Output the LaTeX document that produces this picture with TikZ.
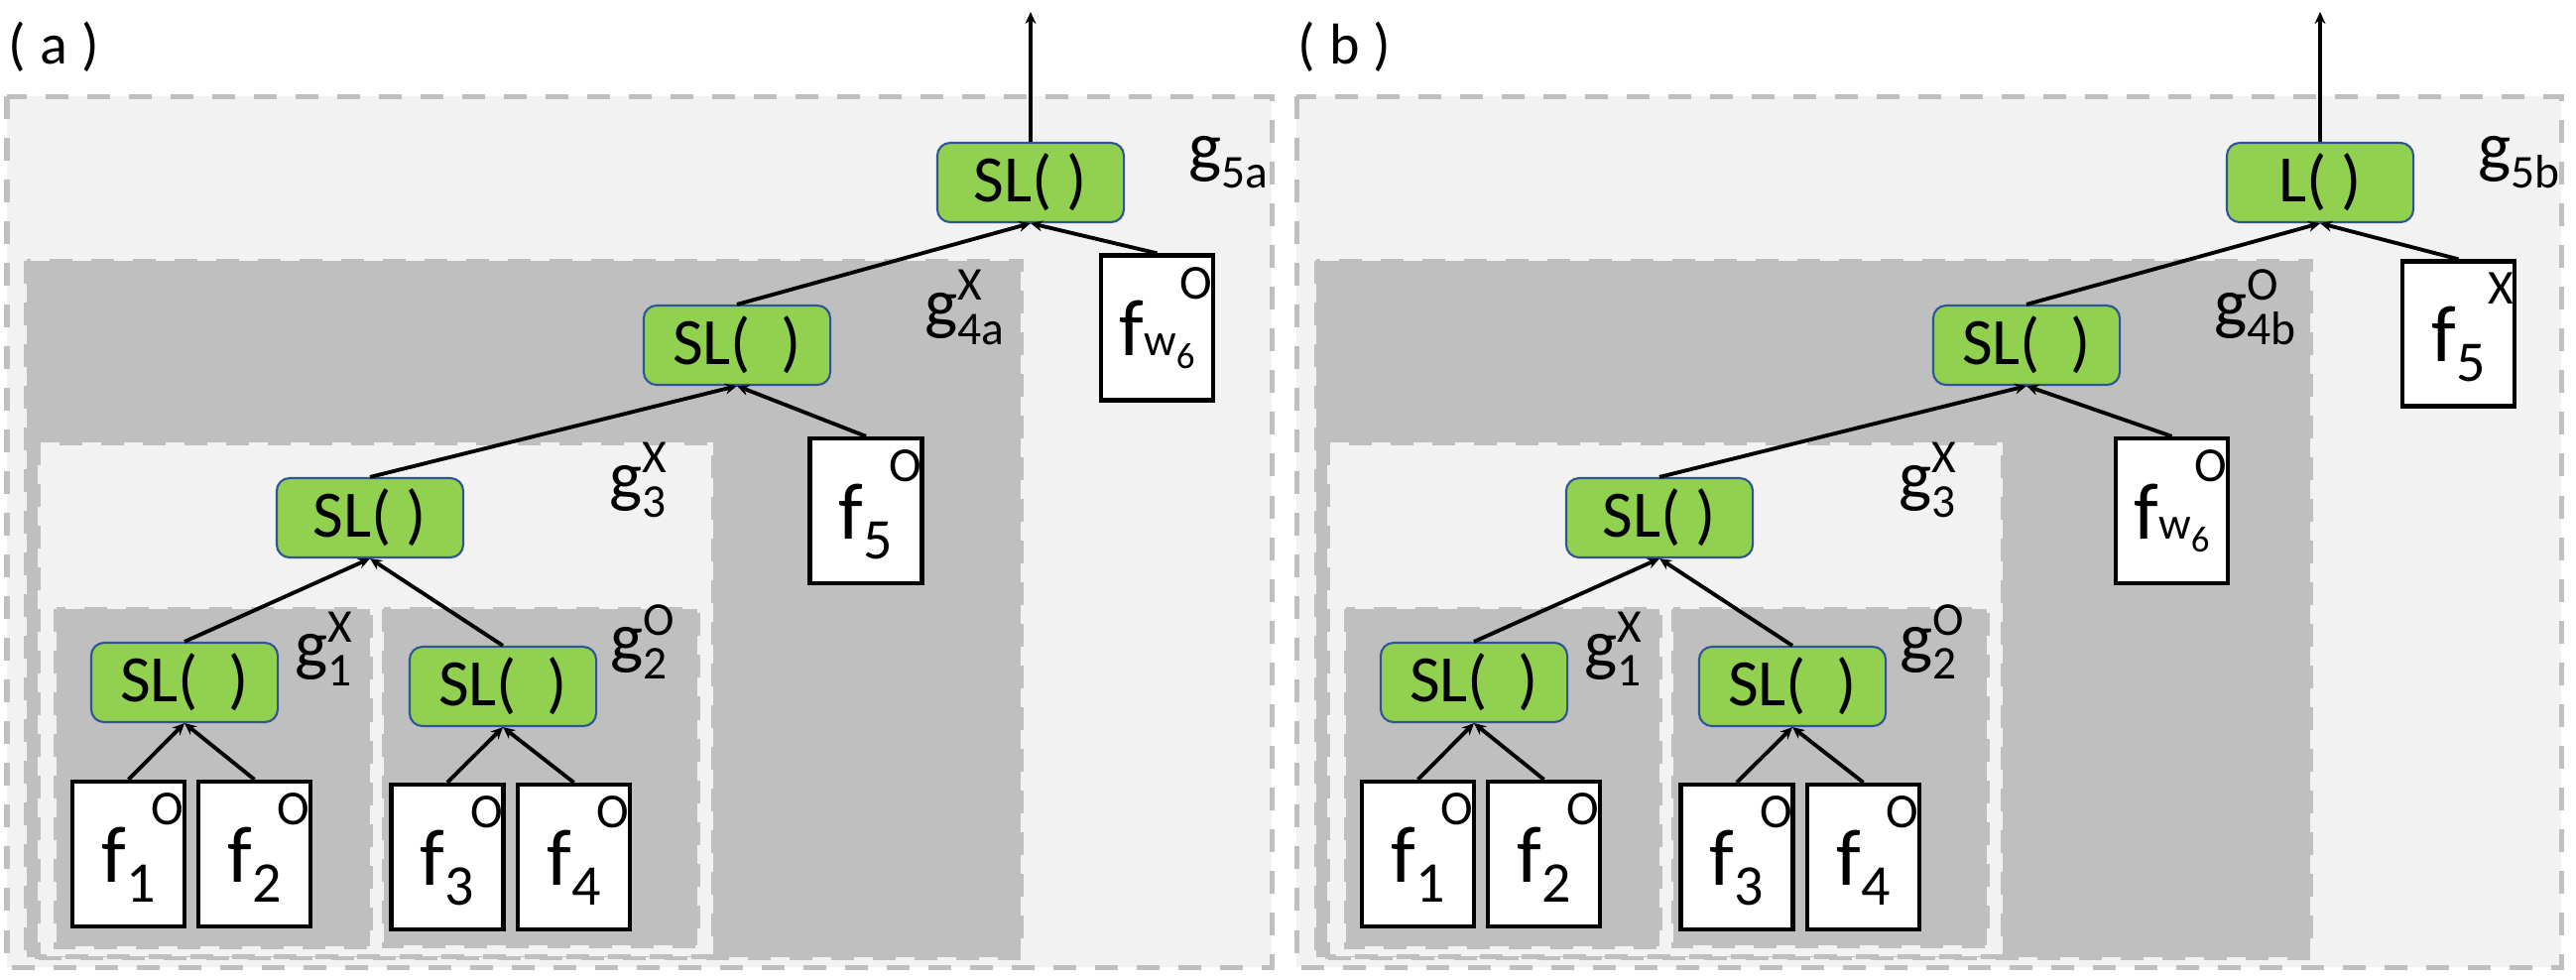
\documentclass[tikz,border=0pt]{standalone}
\usepackage{fontspec}
\setmainfont{Carlito}
\usepackage{xcolor}
\usepackage{tikz}
\usetikzlibrary{arrows.meta}

\definecolor{slgreen}{HTML}{92D050}
\definecolor{slborder}{HTML}{2F5597}
\definecolor{lightgrp}{HTML}{F2F2F2}
\definecolor{darkgrp}{HTML}{BFBFBF}

\newcommand{\slfont}{\fontsize{19}{22}\selectfont}
\newcommand{\ffont}{\fontsize{23}{27}\selectfont}
\newcommand{\fsubfont}{\fontsize{16.5}{19}\selectfont}
\newcommand{\supfont}{\fontsize{14}{16}\selectfont}
\newcommand{\wfont}{\fontsize{13}{15}\selectfont}
\newcommand{\sixfont}{\fontsize{10.5}{12}\selectfont}
\newcommand{\gfont}{\fontsize{20}{23}\selectfont}
\newcommand{\gsubfont}{\fontsize{13.5}{16}\selectfont}
\newcommand{\tagfont}{\fontsize{16.5}{19}\selectfont}

\newcommand{\fsub}[1]{{\ffont f}\raisebox{-0.2cm}{\fsubfont #1}}
\newcommand{\fwsix}{{\ffont f}{\wfont w}\raisebox{-0.13cm}{\sixfont 6}}
\newcommand{\glab}[2]{{\gfont g}\rlap{\raisebox{0.26cm}{\gsubfont #2}}\raisebox{-0.18cm}{\gsubfont #1}}

\tikzset{
  boxlight/.style={draw=darkgrp, fill=lightgrp, line width=0.05cm, dash pattern=on 0.23cm off 0.19cm},
  boxdark/.style={draw=darkgrp, fill=darkgrp, line width=0.05cm, dash pattern=on 0.23cm off 0.19cm},
  slnode/.style={rectangle, rounded corners=0.13cm, draw=slborder, line width=0.6pt, fill=slgreen,
    minimum width=1.88cm, minimum height=0.8cm, inner sep=0pt, font=\slfont},
  fcell/.style={rectangle, draw=black, line width=1.2pt, fill=white, minimum width=1.13cm,
    inner sep=0pt, text height=1.01cm, text depth=0.45cm},
  sup/.style={anchor=north east, inner sep=0pt, font=\supfont, xshift=-0.02cm, yshift=-0.13cm},
  glabel/.style={anchor=base west, inner sep=0pt},
  paneltag/.style={anchor=base west, inner sep=0pt, font=\tagfont},
  link/.style={line width=1.1pt, -{Stealth[length=0.12cm, width=0.11cm]}}
}

\newcommand{\panel}[9]{% shift, tag, root text, g4 sup, top box, top sup, top box centre, mid box, mid box x
  \begin{scope}[shift={(#1,0)}, name prefix=#2-]
    % nested groups
    \draw[boxlight] (7,97) rectangle (1282,975);
    \draw[boxdark] (27,263) rectangle (1029,965);
    \draw[boxlight] (38,446) rectangle (719,964);
    \draw[boxdark] (57,614) rectangle (373,954);
    \draw[boxdark] (387,614) rectangle (703,953);
    \node[paneltag] (tag) at (8,64) {(\hspace{0.14cm}#2\hspace{0.14cm})};
    % group names
    \node[glabel] (g5l) at (1198,171) {\glab{5#2}{}};
    \node[glabel] (g4l) at (932,329) {\glab{4#2}{#4}};
    \node[glabel] (g3l) at (614,503) {\glab{3}{X}};
    \node[glabel] (g1l) at (297,673) {\glab{1}{X}};
    \node[glabel] (g2l) at (615,666) {\glab{2}{O}};
    % operators
    \node[slnode] (root) at (1039,184) {#3};
    \node[slnode] (g4n) at (743,348) {SL(~~)};
    \node[slnode] (g3n) at (373,522) {SL( )};
    \node[slnode] (g1n) at (186,688) {SL(~~)};
    \node[slnode] (g2n) at (507,692) {SL(~~)};
    % feature boxes
    \node[fcell] (top) at (#7) {#5};
    \node[sup] (topo) at (top.north east) {#6};
    \node[fcell] (mid) at (#9,515) {#8};
    \node[sup] (mido) at (mid.north east) {O};
    \foreach \i/\x/\y in {1/129.5/861, 2/256.5/861, 3/451/864, 4/578.5/864} {
      \node[fcell] (f\i) at (\x,\y) {\fsub{\i}};
      \node[sup] (f\i o) at (f\i.north east) {O};
    }
    % links
    \coordinate (out) at (1039,12);
    \draw[link] (root.north) -- (out);
    \foreach \c/\p in {g4n/root, top/root, g3n/g4n, mid/g4n, g1n/g3n, g2n/g3n, f1/g1n, f2/g1n, f3/g2n, f4/g2n}
      \draw[link] (\c.north) -- (\p.south);
  \end{scope}
}

\begin{document}
\begin{tikzpicture}[x=0.01cm, y=-0.01cm]
\useasboundingbox (0,0) rectangle (2597,987);

\panel{0}{a}{SL( )}{X}{\fwsix}{O}{1166.5,330.5}{\fsub{5}}{873}
\panel{1300}{b}{L( )}{O}{\fsub{5}}{X}{1178.5,336.5}{\fwsix}{889.5}

\end{tikzpicture}
\end{document}
